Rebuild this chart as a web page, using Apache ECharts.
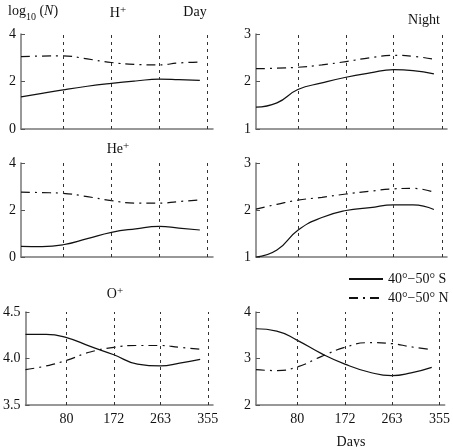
<!DOCTYPE html>
<html lang="en">
<head>
  <meta charset="UTF-8">
  <title>log10(N) by season</title>
  <script src="https://cdn.jsdelivr.net/npm/echarts@6/dist/echarts.min.js"></script>
  <style>
    html, body { margin: 0; background: #fff; }
    #main { width: 453px; height: 447px; }
  </style>
</head>
<body>
<div id="main"></div>
<script>
  // days along x, and the dashed reference days
  var days = [0, 40, 80, 126, 172, 218, 263, 300, 340];
  var markDays = [80, 172, 263, 355];

  // H+ (day / night)
  var hDayS   = [1.35, 1.5, 1.65, 1.8, 1.92, 2.02, 2.1, 2.08, 2.05];
  var hDayN   = [3.05, 3.07, 3.08, 2.95, 2.8, 2.72, 2.7, 2.78, 2.82];
  var hNightS = [1.46, 1.55, 1.83, 1.97, 2.09, 2.18, 2.25, 2.23, 2.16];
  var hNightN = [2.27, 2.28, 2.3, 2.35, 2.42, 2.5, 2.55, 2.53, 2.47];
  // He+
  var heDayS   = [0.45, 0.44, 0.52, 0.78, 1.05, 1.2, 1.3, 1.23, 1.15];
  var heDayN   = [2.76, 2.74, 2.71, 2.57, 2.4, 2.29, 2.29, 2.36, 2.43];
  var heNightS = [1.0, 1.15, 1.57, 1.84, 1.99, 2.05, 2.11, 2.11, 2.01];
  var heNightN = [2.02, 2.12, 2.21, 2.27, 2.34, 2.4, 2.45, 2.46, 2.38];
  // O+
  var oDayS   = [4.26, 4.26, 4.225, 4.13, 4.04, 3.94, 3.92, 3.95, 3.99];
  var oDayN   = [3.88, 3.92, 3.98, 4.07, 4.12, 4.14, 4.14, 4.12, 4.1];
  var oNightS = [3.64, 3.59, 3.39, 3.11, 2.88, 2.71, 2.63, 2.69, 2.81];
  var oNightN = [2.76, 2.74, 2.82, 3.04, 3.24, 3.34, 3.32, 3.25, 3.19];

  var nameS = '40°−50° S';
  var nameN = '40°−50° N';
  var font = 'Liberation Serif';

  var panels = [
    { left: 21,  top: 34,  height: 95, min: 0,   max: 4,   s: hDayS,    n: hDayN },
    { left: 256, top: 34,  height: 95, min: 1,   max: 3,   s: hNightS,  n: hNightN },
    { left: 21,  top: 163, height: 94, min: 0,   max: 4,   s: heDayS,   n: heDayN },
    { left: 256, top: 163, height: 94, min: 1,   max: 3,   s: heNightS, n: heNightN },
    { left: 21,  top: 312, height: 93, min: 3.5, max: 4.5, s: oDayS,    n: oDayN, bottom: true, dec: 1 },
    { left: 256, top: 312, height: 93, min: 2,   max: 4,   s: oNightS,  n: oNightN, bottom: true }
  ];

  function pairs(v) {
    return days.map(function (d, i) { return [d, v[i]]; });
  }

  var grid = [], xAxis = [], yAxis = [], series = [];
  panels.forEach(function (p, i) {
    grid.push({ left: p.left, top: p.top, width: p.left < 100 ? 192 : 191, height: p.height });
    xAxis.push({
      type: 'value', gridIndex: i, min: 0, max: 365,
      axisLine: { lineStyle: { color: '#777', width: 1.5 } },
      axisTick: { show: !!p.bottom, customValues: markDays, length: 3, inside: true, lineStyle: { color: '#555' } },
      splitLine: { show: false },
      axisLabel: {
        show: !!p.bottom, customValues: markDays, margin: 7,
        color: '#111', fontFamily: font, fontSize: 14
      }
    });
    yAxis.push({
      type: 'value', gridIndex: i, min: p.min, max: p.max, interval: (p.max - p.min) / 2,
      axisLine: { show: true, lineStyle: { color: '#777', width: 1.5 } },
      axisTick: { show: true, inside: true, length: 4, lineStyle: { color: '#555' } },
      splitLine: { show: false },
      axisLabel: {
        margin: 5, color: '#111', fontFamily: font, fontSize: 14,
        formatter: function (v) { return p.dec ? v.toFixed(1) : String(v); }
      }
    });
    series.push({
      name: nameS, type: 'line', xAxisIndex: i, yAxisIndex: i,
      data: pairs(p.s), smooth: true, symbol: 'none',
      lineStyle: { color: '#111', width: 1.2 }, itemStyle: { color: '#111' },
      markLine: {
        silent: true, symbol: ['none', 'none'], label: { show: false },
        lineStyle: { color: '#333', width: 1, type: [3, 4] },
        data: markDays.map(function (d) { return { xAxis: d }; })
      }
    });
    series.push({
      name: nameN, type: 'line', xAxisIndex: i, yAxisIndex: i,
      data: pairs(p.n), smooth: true, symbol: 'none',
      lineStyle: { color: '#111', width: 1.2, type: [9, 5, 2, 5] }, itemStyle: { color: '#111' }
    });
  });

  var txt = { fontFamily: font, fontSize: 14, fill: '#111' };
  function label(x, y, text, align, rich) {
    return {
      type: 'text', x: x, y: y,
      style: Object.assign({ text: text, align: align || 'center', verticalAlign: 'middle', rich: rich }, txt)
    };
  }
  var supRich = {
    b: { fontFamily: font, fontSize: 14, lineHeight: 16, verticalAlign: 'bottom' },
    p: { fontFamily: font, fontSize: 11, lineHeight: 11, verticalAlign: 'top', padding: [1, 0, 0, 0] }
  };
  var subRich = {
    b: { fontFamily: font, fontSize: 14, lineHeight: 18, verticalAlign: 'top' },
    i: { fontFamily: font, fontSize: 14, lineHeight: 18, fontStyle: 'italic', verticalAlign: 'top' },
    s: { fontFamily: font, fontSize: 10, lineHeight: 10, verticalAlign: 'bottom' }
  };

  var myChart = echarts.init(document.getElementById('main'));
  myChart.setOption({
    animation: false,
    grid: grid,
    xAxis: xAxis,
    yAxis: yAxis,
    series: series,
    legend: {
      data: [nameS, nameN], orient: 'vertical', left: 343, top: 267,
      itemWidth: 34, itemHeight: 12, itemGap: 5,
      itemStyle: { opacity: 0 },
      textStyle: { fontFamily: font, fontSize: 14, color: '#111' }
    },
    graphic: [
      label(8, 13, '{b|log}{s|10}{b| (}{i|N}{b|)}', 'left', subRich),
      label(118, 12, '{b|H}{p|+}', 'center', supRich),
      label(195, 12, 'Day'),
      label(424, 20, 'Night'),
      label(118, 148, '{b|He}{p|+}', 'center', supRich),
      label(115, 293, '{b|O}{p|+}', 'center', supRich),
      label(351, 442, 'Days')
    ]
  });
  window.addEventListener('resize', function () { myChart.resize(); });
</script>
</body>
</html>
